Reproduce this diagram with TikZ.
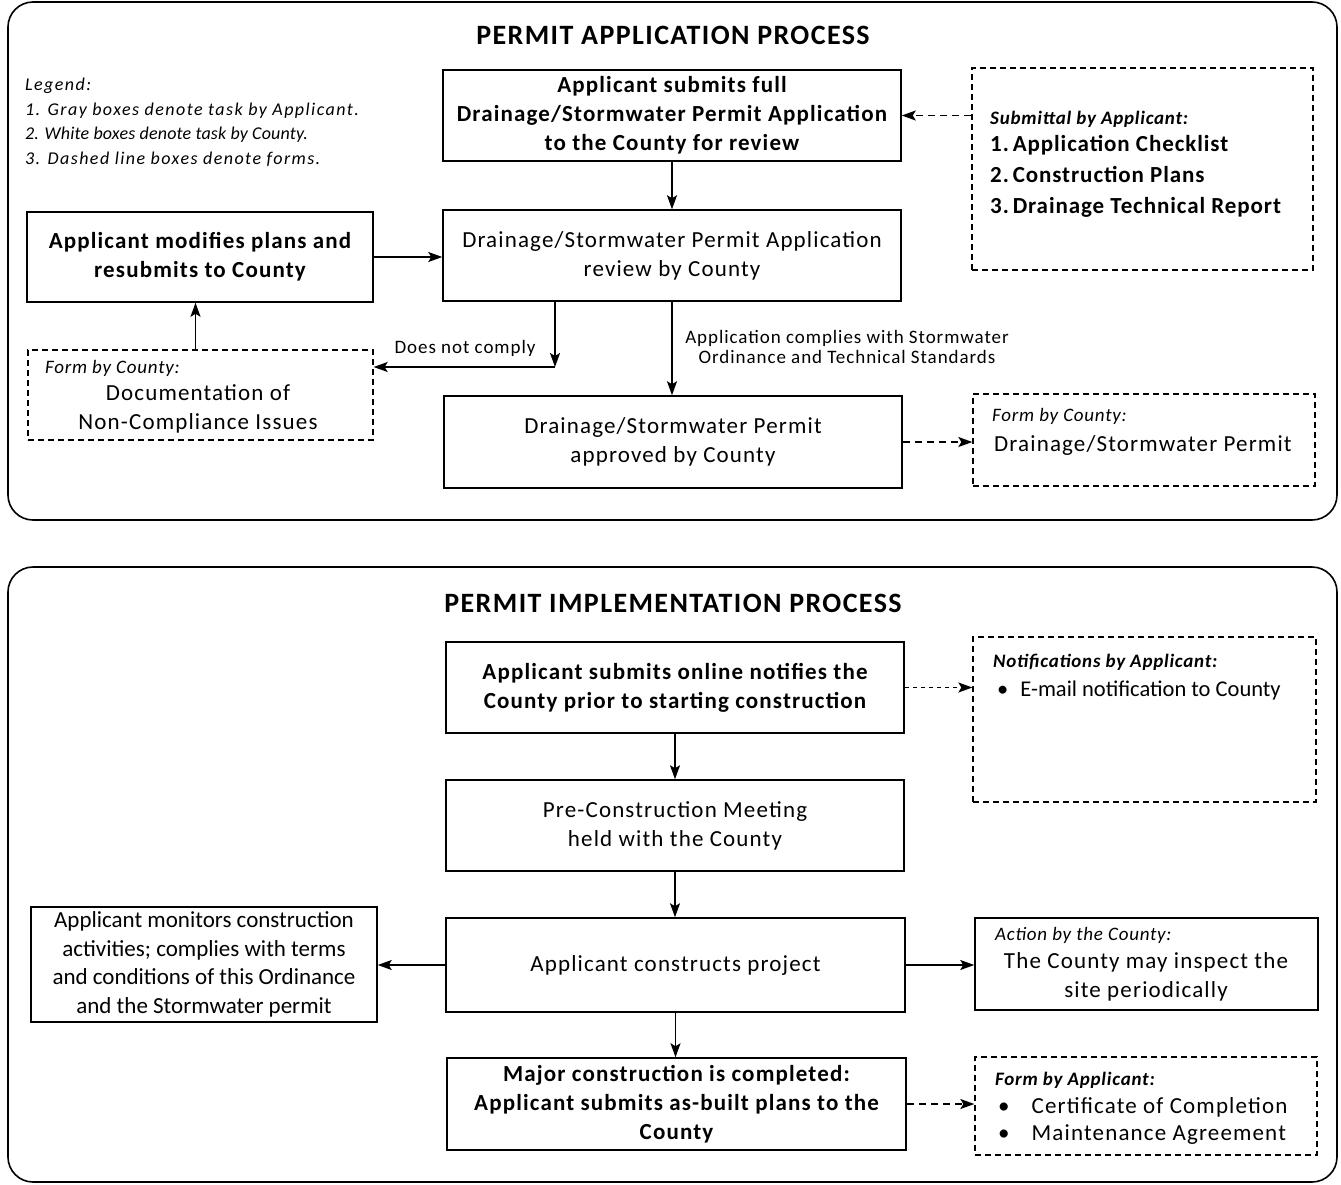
\documentclass[tikz,border=0pt]{standalone}
\usepackage{fontspec}
\setmainfont{Carlito}[LetterSpace=5]
\newfontfamily\fonttight{Carlito}
\newfontfamily\fontmed{Carlito}[LetterSpace=4]
\newfontfamily\fontlegwide{Carlito}[LetterSpace=8]
\newfontfamily\fontlegnarrow{Carlito}[LetterSpace=1]
\usetikzlibrary{arrows.meta}
\begin{document}
\begin{tikzpicture}[x=1pt,y=-1pt,
  box/.style={draw, line width=1.5pt, fill=white, align=center, inner sep=0pt, font=\fontsize{23}{29}\selectfont},
  bbox/.style={box, font=\fontsize{23}{29}\selectfont\bfseries},
  formbox/.style={draw, line width=1.3pt, dash pattern=on 6pt off 4pt, inner sep=0pt},
  plainbox/.style={draw, line width=1.5pt, inner sep=0pt},
  arr/.style={-{Stealth[length=14pt,width=10pt,inset=3pt]}, line width=1.5pt},
  darr/.style={arr, dash pattern=on 7pt off 5pt},
  dotarr/.style={arr, dash pattern=on 4pt off 4pt},
  frame/.style={draw, line width=1.6pt, rounded corners=25pt},
  title/.style={font=\fontsize{28}{32}\selectfont\bfseries},
  smallit/.style={anchor=west, inner sep=0pt, font=\fontsize{19}{22}\selectfont\fontmed\itshape},
  smallbit/.style={anchor=west, inner sep=0pt, font=\fontsize{19}{22}\selectfont\fontmed\itshape\bfseries},
  lbl/.style={inner sep=0pt, align=center, font=\fontsize{19}{20}\selectfont},
  formtxt/.style={inner sep=0pt, align=center, font=\fontsize{23}{29}\selectfont},
  itemtxt/.style={anchor=west, inner sep=0pt, font=\fontsize{23}{29}\selectfont}
]
\useasboundingbox (0,0) rectangle (1341,1184);
\fill[white] (0,0) rectangle (1341,1184);

% frames
\draw[frame] (8,2) rectangle (1337,520);
\draw[frame] (8,567) rectangle (1337,1182);
\node[title] (t1) at (673,35) {PERMIT APPLICATION PROCESS};
\node[title] (t2) at (673,603) {PERMIT IMPLEMENTATION PROCESS};

% legend
\node[anchor=north west, inner sep=0pt, align=left, font=\fontsize{18}{24.5}\selectfont\itshape] (leg) at (25,78)
 {{\fontlegwide\itshape Legend:}\\{\fontlegwide\itshape 1. Gray boxes denote task by Applicant.}\\{\fontlegnarrow\itshape 2. White boxes denote task by County.}\\{\fontlegwide\itshape 3. Dashed line boxes denote forms.}};

% top section
\node[bbox, minimum width=458pt, minimum height=91pt] (A1) at (672,115.5)
 {Applicant submits full\\Drainage/Stormwater Permit Application\\to the County for review};
\node[box, minimum width=458pt, minimum height=91pt] (A2) at (672,255.5)
 {Drainage/Stormwater Permit Application\\review by County};
\node[bbox, minimum width=346pt, minimum height=90pt] (A3) at (200,257)
 {Applicant modifies plans and\\resubmits to County};
\node[box, minimum width=458pt, minimum height=92pt] (A4) at (673,442)
 {Drainage/Stormwater Permit\\approved by County};

\node[formbox, minimum width=345pt, minimum height=90pt] (F1) at (200.5,395) {};
\node[smallit] (F1a) at (45,368) {Form by County:};
\node[formtxt] (F1b) at (198,409) {Documentation of\\Non-Compliance Issues};

\node[formbox, minimum width=341pt, minimum height=202pt] (S1) at (1142.5,169) {};
\node[smallbit] (S1a) at (990,119) {Submittal by Applicant:};
\node[anchor=north west, inner sep=0pt, align=left, font=\fontsize{23}{31}\selectfont\fontmed\bfseries] (S1b) at (990,135)
 {1.\,Application Checklist\\2.\,Construction Plans\\3.\,Drainage Technical Report};

\node[formbox, minimum width=342pt, minimum height=92pt] (F2) at (1144,440) {};
\node[smallit] (F2a) at (992,416) {Form by County:};
\node[itemtxt] (F2b) at (994,445) {Drainage/Stormwater Permit};

\node[lbl] (L1) at (465,348) {Does not comply};
\node[lbl] (L2) at (847,347) {Application complies with Stormwater\\Ordinance and Technical Standards};

% top arrows
\draw[darr] (S1.west |- A1.east) -- (A1.east);
\draw[arr] (A1.south) -- (A2.north);
\draw[arr] (A3.east) -- (A3.east -| A2.west);
\coordinate (dc) at (555,367);
\draw[arr] (A2.south -| dc) -- (dc);
\draw[arr] (dc) -- (dc -| F1.east);
\draw[arr] (A2.south) -- (A2.south |- A4.north);
\draw[darr] (A4.east) -- (A4.east -| F2.west);
\coordinate (up) at ([xshift=-5pt]F1.north);
\draw[arr] (up) -- (up |- A3.south);

% bottom section
\node[bbox, minimum width=458pt, minimum height=91pt] (B1) at (675,687.5)
 {Applicant submits online notifies the\\County prior to starting construction};
\node[box, minimum width=458pt, minimum height=91pt] (B2) at (675,825.5)
 {Pre-Construction Meeting\\held with the County};
\node[box, minimum width=459pt, minimum height=94pt] (B3) at (675.5,965)
 {Applicant constructs project};
\node[bbox, minimum width=459pt, minimum height=92pt] (B4) at (676.5,1104)
 {Major construction is completed:\\Applicant submits as-built plans to the\\County};
\node[box, minimum width=346pt, minimum height=115pt, font=\fontsize{23}{28.5}\selectfont\fonttight] (B5) at (204,964.5)
 {Applicant monitors construction\\activities; complies with terms\\and conditions of this Ordinance\\and the Stormwater permit};

\node[formbox, minimum width=343pt, minimum height=165pt] (N1) at (1144.5,719.5) {};
\node[smallbit] (N1a) at (993,662) {Notifications by Applicant:};
\node[anchor=west, inner sep=0pt, font=\fontsize{22.5}{29}\selectfont\fonttight] (N1b) at (997,690) {•\hspace{12pt}E-mail notification to County};

\node[plainbox, minimum width=343pt, minimum height=92pt] (AC) at (1146.5,964) {};
\node[smallit] (ACa) at (995,935) {Action by the County:};
\node[formtxt] (ACb) at (1146,977) {The County may inspect the\\site periodically};

\node[formbox, minimum width=342pt, minimum height=98pt] (FA) at (1146,1106) {};
\node[smallbit] (FAa) at (995,1080) {Form by Applicant:};
\node[itemtxt] (FAb) at (998,1107) {•\hspace{22pt}Certificate of Completion};
\node[itemtxt] (FAc) at (998,1135) {•\hspace{22pt}Maintenance Agreement};

% bottom arrows
\draw[dotarr] (B1.east) -- (B1.east -| N1.west);
\draw[arr] (B1.south) -- (B2.north);
\draw[arr] (B2.south) -- (B2.south |- B3.north);
\draw[arr] (B3.west) -- (B3.west -| B5.east);
\draw[arr] (B3.east) -- (B3.east -| AC.west);
\draw[arr] (B3.south) -- (B3.south |- B4.north);
\draw[darr] (B4.east) -- (B4.east -| FA.west);
\end{tikzpicture}
\end{document}
